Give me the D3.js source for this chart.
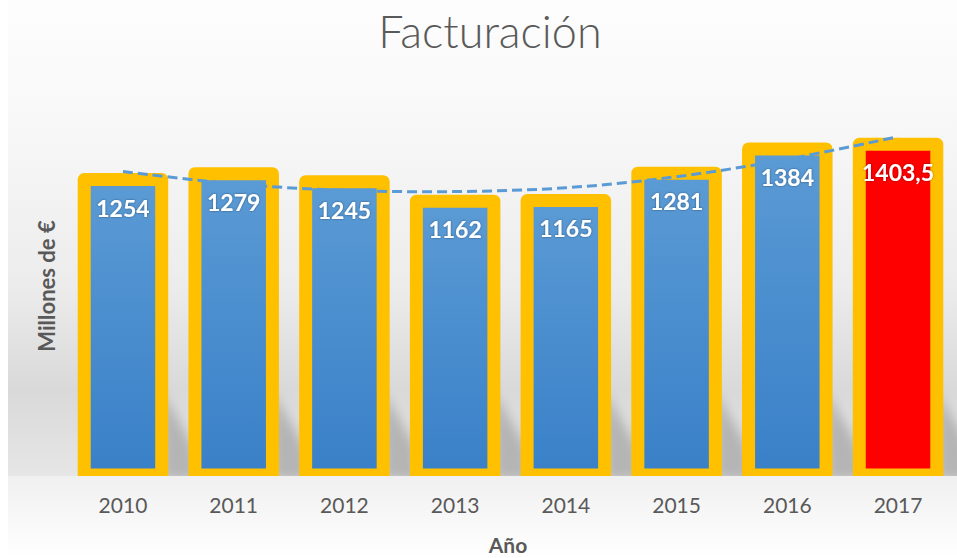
<!DOCTYPE html>
<html>
<head>
<meta charset="utf-8">
<script src="https://d3js.org/d3.v7.min.js"></script>
<style>
  body { margin: 0; background: #fff; }
  text { font-family: Lato, "Open Sans", sans-serif; }
</style>
</head>
<body>
<div id="chart"></div>
<script>

var years = ["2010", "2011", "2012", "2013", "2014", "2015", "2016", "2017"];
var revenue = [1254, 1279, 1245, 1162, 1165, 1281, 1384, 1403.5];
var labels = ["1254", "1279", "1245", "1162", "1165", "1281", "1384", "1403,5"];
// trendline (polynomial) at each year
var trend = [1288, 1236, 1208, 1203, 1219, 1266, 1340, 1436];

var width = 957,
    height = 558,
    floorY = 476;

var svg = d3.select("#chart").append("svg")
    .attr("width", width)
    .attr("height", height);

var defs = svg.append("defs");

var wall = defs.append("linearGradient")
    .attr("id", "wall")
    .attr("x1", 0).attr("y1", 0).attr("x2", 0).attr("y2", 1);
wall.append("stop").attr("offset", "0").attr("stop-color", "#fdfdfd");
wall.append("stop").attr("offset", "0.25").attr("stop-color", "#f8f8f8");
wall.append("stop").attr("offset", "0.6").attr("stop-color", "#ececec");
wall.append("stop").attr("offset", "0.82").attr("stop-color", "#d9d9d9");
wall.append("stop").attr("offset", "1").attr("stop-color", "#e6e6e6");

var floor = defs.append("linearGradient")
    .attr("id", "floor")
    .attr("x1", 0).attr("y1", 0).attr("x2", 0).attr("y2", 1);
floor.append("stop").attr("offset", "0").attr("stop-color", "#f0f0f0");
floor.append("stop").attr("offset", "1").attr("stop-color", "#ffffff");

var barGrad = defs.append("linearGradient")
    .attr("id", "barGrad")
    .attr("x1", 0).attr("y1", 0).attr("x2", 0).attr("y2", 1);
barGrad.append("stop").attr("offset", "0").attr("stop-color", "#5b9bd5");
barGrad.append("stop").attr("offset", "1").attr("stop-color", "#3980c8");

defs.append("filter")
    .attr("id", "blur")
    .attr("x", "-50%").attr("y", "-50%").attr("width", "200%").attr("height", "200%")
  .append("feGaussianBlur")
    .attr("stdDeviation", 6);

defs.append("filter")
    .attr("id", "glow")
  .append("feDropShadow")
    .attr("dx", 0).attr("dy", 0)
    .attr("stdDeviation", 1)
    .attr("flood-color", "#000")
    .attr("flood-opacity", 0.45);

defs.append("clipPath")
    .attr("id", "plotClip")
  .append("rect")
    .attr("x", 0).attr("y", 0)
    .attr("width", width).attr("height", floorY);

// background
svg.append("rect")
    .attr("x", 8).attr("y", 0)
    .attr("width", width - 8).attr("height", floorY)
    .style("fill", "url(#wall)");

svg.append("rect")
    .attr("x", 8).attr("y", floorY)
    .attr("width", width - 8).attr("height", height - floorY)
    .style("fill", "url(#floor)");

var x = d3.scaleBand()
    .domain(years)
    .range([67.6, 953.4])
    .paddingInner(0.3)
    .paddingOuter(0.15);

var y = d3.scaleLinear()
    .domain([0, 1600])
    .range([475, 98]);

var data = years.map(function(d, i) {
  return { year: d, value: revenue[i], label: labels[i], trend: trend[i] };
});

var plot = svg.append("g")
    .attr("clip-path", "url(#plotClip)");

// floor shadows behind the bars
plot.append("g")
    .attr("filter", "url(#blur)")
  .selectAll("path")
    .data(data)
  .enter().append("path")
    .attr("d", function(d) {
      var r = x(d.year) + x.bandwidth() + 4;
      return "M" + [r - 4, floorY + 4] +
             "L" + [r - 4, floorY - 85] +
             "L" + [r + 28, floorY - 30] +
             "L" + [r + 34, floorY + 4] + "Z";
    })
    .style("fill", "#a9a9a9")
    .style("opacity", 0.8);

plot.selectAll(".bar")
    .data(data)
  .enter().append("rect")
    .attr("class", "bar")
    .attr("x", function(d) { return x(d.year); })
    .attr("y", function(d) { return y(d.value); })
    .attr("width", x.bandwidth())
    .attr("height", function(d) { return y(0) - y(d.value); })
    .style("fill", function(d) { return d.year === "2017" ? "#ff0000" : "url(#barGrad)"; })
    .style("stroke", "#ffc000")
    .style("stroke-width", 13)
    .style("stroke-linejoin", "round");

var line = d3.line()
    .x(function(d) { return x(d.year) + x.bandwidth() / 2; })
    .y(function(d) { return y(d.trend); })
    .curve(d3.curveCatmullRom.alpha(0.5));

svg.append("path")
    .datum(data)
    .attr("d", line)
    .style("fill", "none")
    .style("stroke", "#5b9bd5")
    .style("stroke-width", 3)
    .style("stroke-dasharray", "10,5");

svg.selectAll(".value")
    .data(data)
  .enter().append("text")
    .attr("class", "value")
    .attr("x", function(d) { return x(d.year) + x.bandwidth() / 2; })
    .attr("y", function(d) { return y(d.value) + 37; })
    .attr("text-anchor", "middle")
    .attr("filter", "url(#glow)")
    .style("font-size", "23px")
    .style("font-weight", "bold")
    .style("fill", "#fff")
    .text(function(d) { return d.label; });

var xAxis = svg.append("g")
    .attr("transform", "translate(0," + floorY + ")")
    .call(d3.axisBottom(x).tickSize(0).tickPadding(22));

xAxis.select(".domain").remove();
xAxis.selectAll("text")
    .style("font-family", "Lato, sans-serif")
    .style("font-size", "21px")
    .style("fill", "#595959");

svg.append("text")
    .attr("x", 490)
    .attr("y", 48)
    .attr("text-anchor", "middle")
    .style("font-size", "45px")
    .style("font-weight", 300)
    .style("fill", "#595959")
    .text("Facturación");

svg.append("text")
    .attr("transform", "translate(55,286) rotate(-90)")
    .attr("text-anchor", "middle")
    .style("font-size", "22px")
    .style("font-weight", "bold")
    .style("fill", "#595959")
    .text("Millones de €");

svg.append("text")
    .attr("x", 508)
    .attr("y", 553)
    .attr("text-anchor", "middle")
    .style("font-size", "21px")
    .style("font-weight", "bold")
    .style("fill", "#595959")
    .text("Año");

</script>
</body>
</html>
